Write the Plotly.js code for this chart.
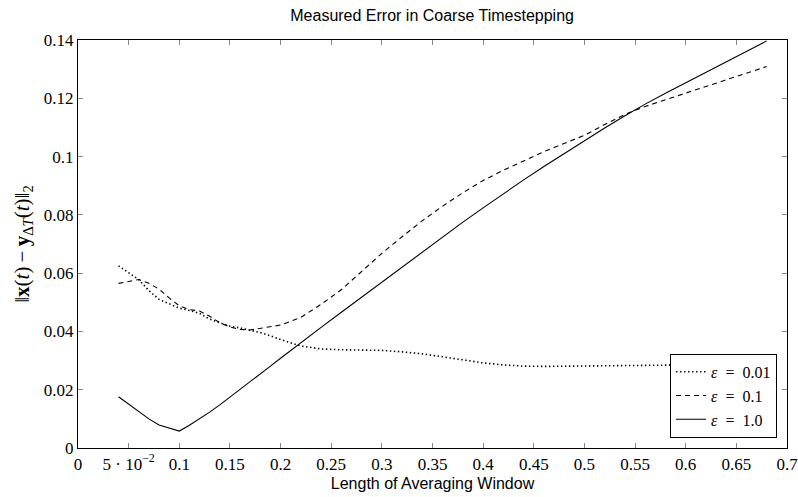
<!DOCTYPE html>
<html>
<head>
<meta charset="utf-8">
<script src="https://cdn.plot.ly/plotly-3.0.1.min.js"></script>
<style>html,body{margin:0;padding:0;background:#fff;}#chart{width:798px;height:497px;}</style>
</head>
<body>
<div id="chart"></div>
<script>
// Window lengths (x)
const windowLen = [0.04,0.05,0.06,0.07,0.08,0.09,0.10,0.11,0.12,0.13,0.14,0.15,0.16,0.17,0.18,0.19,0.20,
  0.22,0.24,0.26,0.28,0.30,0.32,0.34,0.36,0.38,0.40,0.42,0.44,0.46,0.48,0.50,0.52,0.54,0.56,0.58,0.60,0.62,0.64,0.66,0.68];
// epsilon = 0.01 (dotted)
const errEps001 = [0.0625,0.0600,0.0578,0.0540,0.0510,0.0495,0.0480,0.0472,0.0462,0.0442,0.0430,0.0418,0.0412,0.0405,0.0396,0.0385,0.0372,
  0.0350,0.0340,0.0337,0.0336,0.0335,0.0330,0.0323,0.0313,0.0302,0.0292,0.0285,0.0281,0.0280,0.0281,0.0282,0.0283,0.0284,0.0285,0.0285,0.0285,0.0285,0.0285,0.0285,0.0285];
// epsilon = 0.1 (dashed)
const errEps01 = [0.0565,0.0572,0.0578,0.0565,0.0545,0.0515,0.0488,0.0475,0.0470,0.0452,0.0430,0.0415,0.0407,0.0405,0.0410,0.0415,0.0422,
  0.0448,0.0493,0.0543,0.0605,0.0668,0.0725,0.0780,0.0830,0.0876,0.0918,0.0953,0.0985,0.1017,0.1045,0.1073,0.1110,0.1145,0.1172,0.1195,0.1218,0.1240,0.1263,0.1286,0.1309];
// epsilon = 1.0 (solid)
const errEps1 = [0.0176,0.0150,0.0125,0.0100,0.0079,0.0068,0.0058,0.0078,0.0100,0.0123,0.0148,0.0174,0.0200,0.0227,0.0254,0.0281,0.0308,
  0.0362,0.0414,0.0466,0.0518,0.0570,0.0622,0.0674,0.0725,0.0775,0.0824,0.0873,0.0920,0.0966,0.1011,0.1055,0.1098,0.1140,0.1180,0.1217,0.1253,0.1289,0.1325,0.1361,0.1397];

const seriesNames = ['<i>ε</i>\u2002=\u20020.01','<i>ε</i>\u2002=\u20020.1','<i>ε</i>\u2002=\u20021.0'];
const xTickVals = [0,0.05,0.1,0.15,0.2,0.25,0.3,0.35,0.4,0.45,0.5,0.55,0.6,0.65,0.7];
const xTickText = ['0','5 · 10<sup>−2</sup>','0.1','0.15','0.2','0.25','0.3','0.35','0.4','0.45','0.5','0.55','0.6','0.65','0.7'];
const yTickVals = [0,0.02,0.04,0.06,0.08,0.1,0.12,0.14];
const yTickText = ['0','0.02','0.04','0.06','0.08','0.1','0.12','0.14'];

const serif = 'Liberation Serif, DejaVu Serif, serif';
const sans = 'Liberation Sans, Arial, sans-serif';

const traces = [
  {x: windowLen, y: errEps001, name: seriesNames[0], mode:'lines', line:{color:'#000', width:1.6, dash:'1.4px,2.6px'}},
  {x: windowLen, y: errEps01, name: seriesNames[1], mode:'lines', line:{color:'#000', width:1.1, dash:'5px,4px'}},
  {x: windowLen, y: errEps1, name: seriesNames[2], mode:'lines', line:{color:'#000', width:1.1}}
];

const axisCommon = {
  showgrid:false, zeroline:false, showline:true, linecolor:'#000', linewidth:1.2,
  mirror:'ticks', ticks:'inside', ticklen:5, tickcolor:'#888', tickwidth:1,
  ticklabeloverflow:'allow',
  tickfont:{family:serif, size:17, color:'#000'}
};

const layout = {
  width:798, height:497,
  margin:{l:78, r:11, t:40, b:49, autoexpand:false},
  paper_bgcolor:'#fff', plot_bgcolor:'#fff',
  title:{text:'Measured Error in Coarse Timestepping', font:{family:sans, size:16, color:'#000'},
    x:0.5415, xanchor:'center', y:1-15/497, yanchor:'middle', yref:'container'},
  xaxis: Object.assign({}, axisCommon, {
    range:[0,0.7], tickmode:'array', tickvals:xTickVals, ticktext:xTickText,
    title:{text:'Length of Averaging Window', font:{family:sans, size:16, color:'#000'}, standoff:5}
  }),
  yaxis: Object.assign({}, axisCommon, {
    range:[0,0.14], tickmode:'array', tickvals:yTickVals, ticktext:yTickText,
    title:{text:'‖<b>x</b>(<i>t</i>)\u2009−\u2009<b>y</b><sub>Δ<i>T</i></sub>(<i>t</i>)‖<sub>2</sub>', font:{family:serif, size:21, color:'#000'}, standoff:8}
  }),
  showlegend:true,
  legend:{x:0.986, xanchor:'right', y:0.025, yanchor:'bottom', bgcolor:'#fff', bordercolor:'#000', borderwidth:1,
    font:{family:serif, size:16, color:'#000'}, itemwidth:30, tracegroupgap:0}
};

Plotly.newPlot('chart', traces, layout, {staticPlot:true, displayModeBar:false});
</script>
</body>
</html>
